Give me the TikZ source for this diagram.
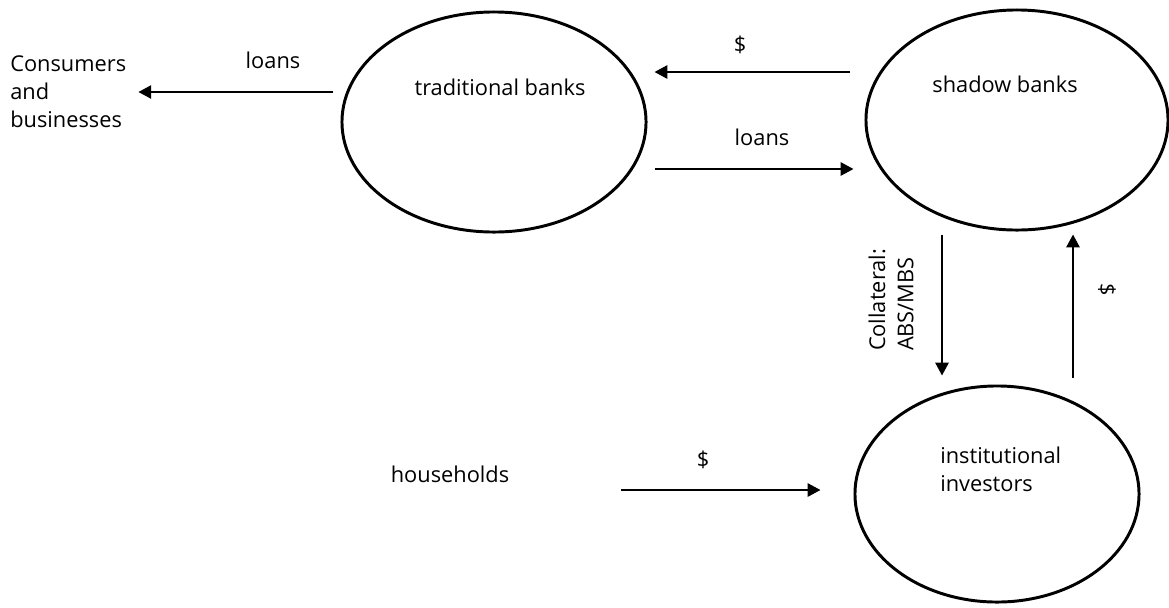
\documentclass[tikz,border=0pt]{standalone}
\usepackage{fontspec}
\setmainfont{Open Sans}
\usetikzlibrary{shapes.geometric,arrows.meta,calc}
\tikzset{
    sector/.style={ellipse, draw, line width=2.1pt},
    lbl/.style={inner sep=0pt, font=\fontsize{15.5}{20}\selectfont},
    flow/.style={line width=1.5pt, -{Triangle[length=0.32cm,width=0.33cm]}}
}

\begin{document}
\begin{tikzpicture}[x=0.025cm, y=-0.025cm]
    \useasboundingbox (0,0) rectangle (1169,607);

    % Sectors
    \node[sector, minimum width=7.6cm, minimum height=5.5cm] (trad) at (494,122) {};
    \node[sector, minimum width=7.55cm, minimum height=5.5cm] (shadow) at (1017,120) {};
    \node[sector, minimum width=7.1cm, minimum height=5.4cm] (inst) at (997,494) {};

    % Names
    \node[lbl] (tradname) at (500,87) {traditional banks};
    \node[lbl] (shadowname) at (1005,84) {shadow banks};
    \node[lbl, align=left, anchor=west] (instname) at (940,469) {institutional\\investors};
    \node[lbl, align=left, anchor=west] (cons) at (10,92) {Consumers\\and\\businesses};
    \node[lbl] (hh) at (450,474) {households};

    % Flows
    \draw[flow] ($(trad.west)+(-7,-30)$) -- ($(cons.east)+(12,0)$);
    \draw[flow] ($(shadow.west)+(-14,-48)$) -- ($(trad.east)+(7,-50)$);
    \draw[flow] ($(trad.east)+(7,47)$) -- ($(shadow.west)+(-11,49)$);
    \draw[flow] ($(shadow.south)+(-75,3)$) -- ($(inst.north)+(-55,-9)$);
    \draw[flow] ($(inst.north)+(76,-7)$) -- ($(shadow.south)+(56,3)$);
    \draw[flow] ($(hh.east)+(112,16)$) -- ($(inst.west)+(-33,-4)$);

    % Flow labels
    \node[lbl] (loansout) at (273,60) {loans};
    \node[lbl] (cashtop) at (740,45) {\$};
    \node[lbl] (loansin) at (762,137) {loans};
    \node[lbl, rotate=90, align=left] (coll) at (891,300) {Collateral:\\ABS/MBS};
    \node[lbl, rotate=-90] (cashup) at (1107,290) {\$};
    \node[lbl] (cashhh) at (703,460) {\$};
\end{tikzpicture}
\end{document}
